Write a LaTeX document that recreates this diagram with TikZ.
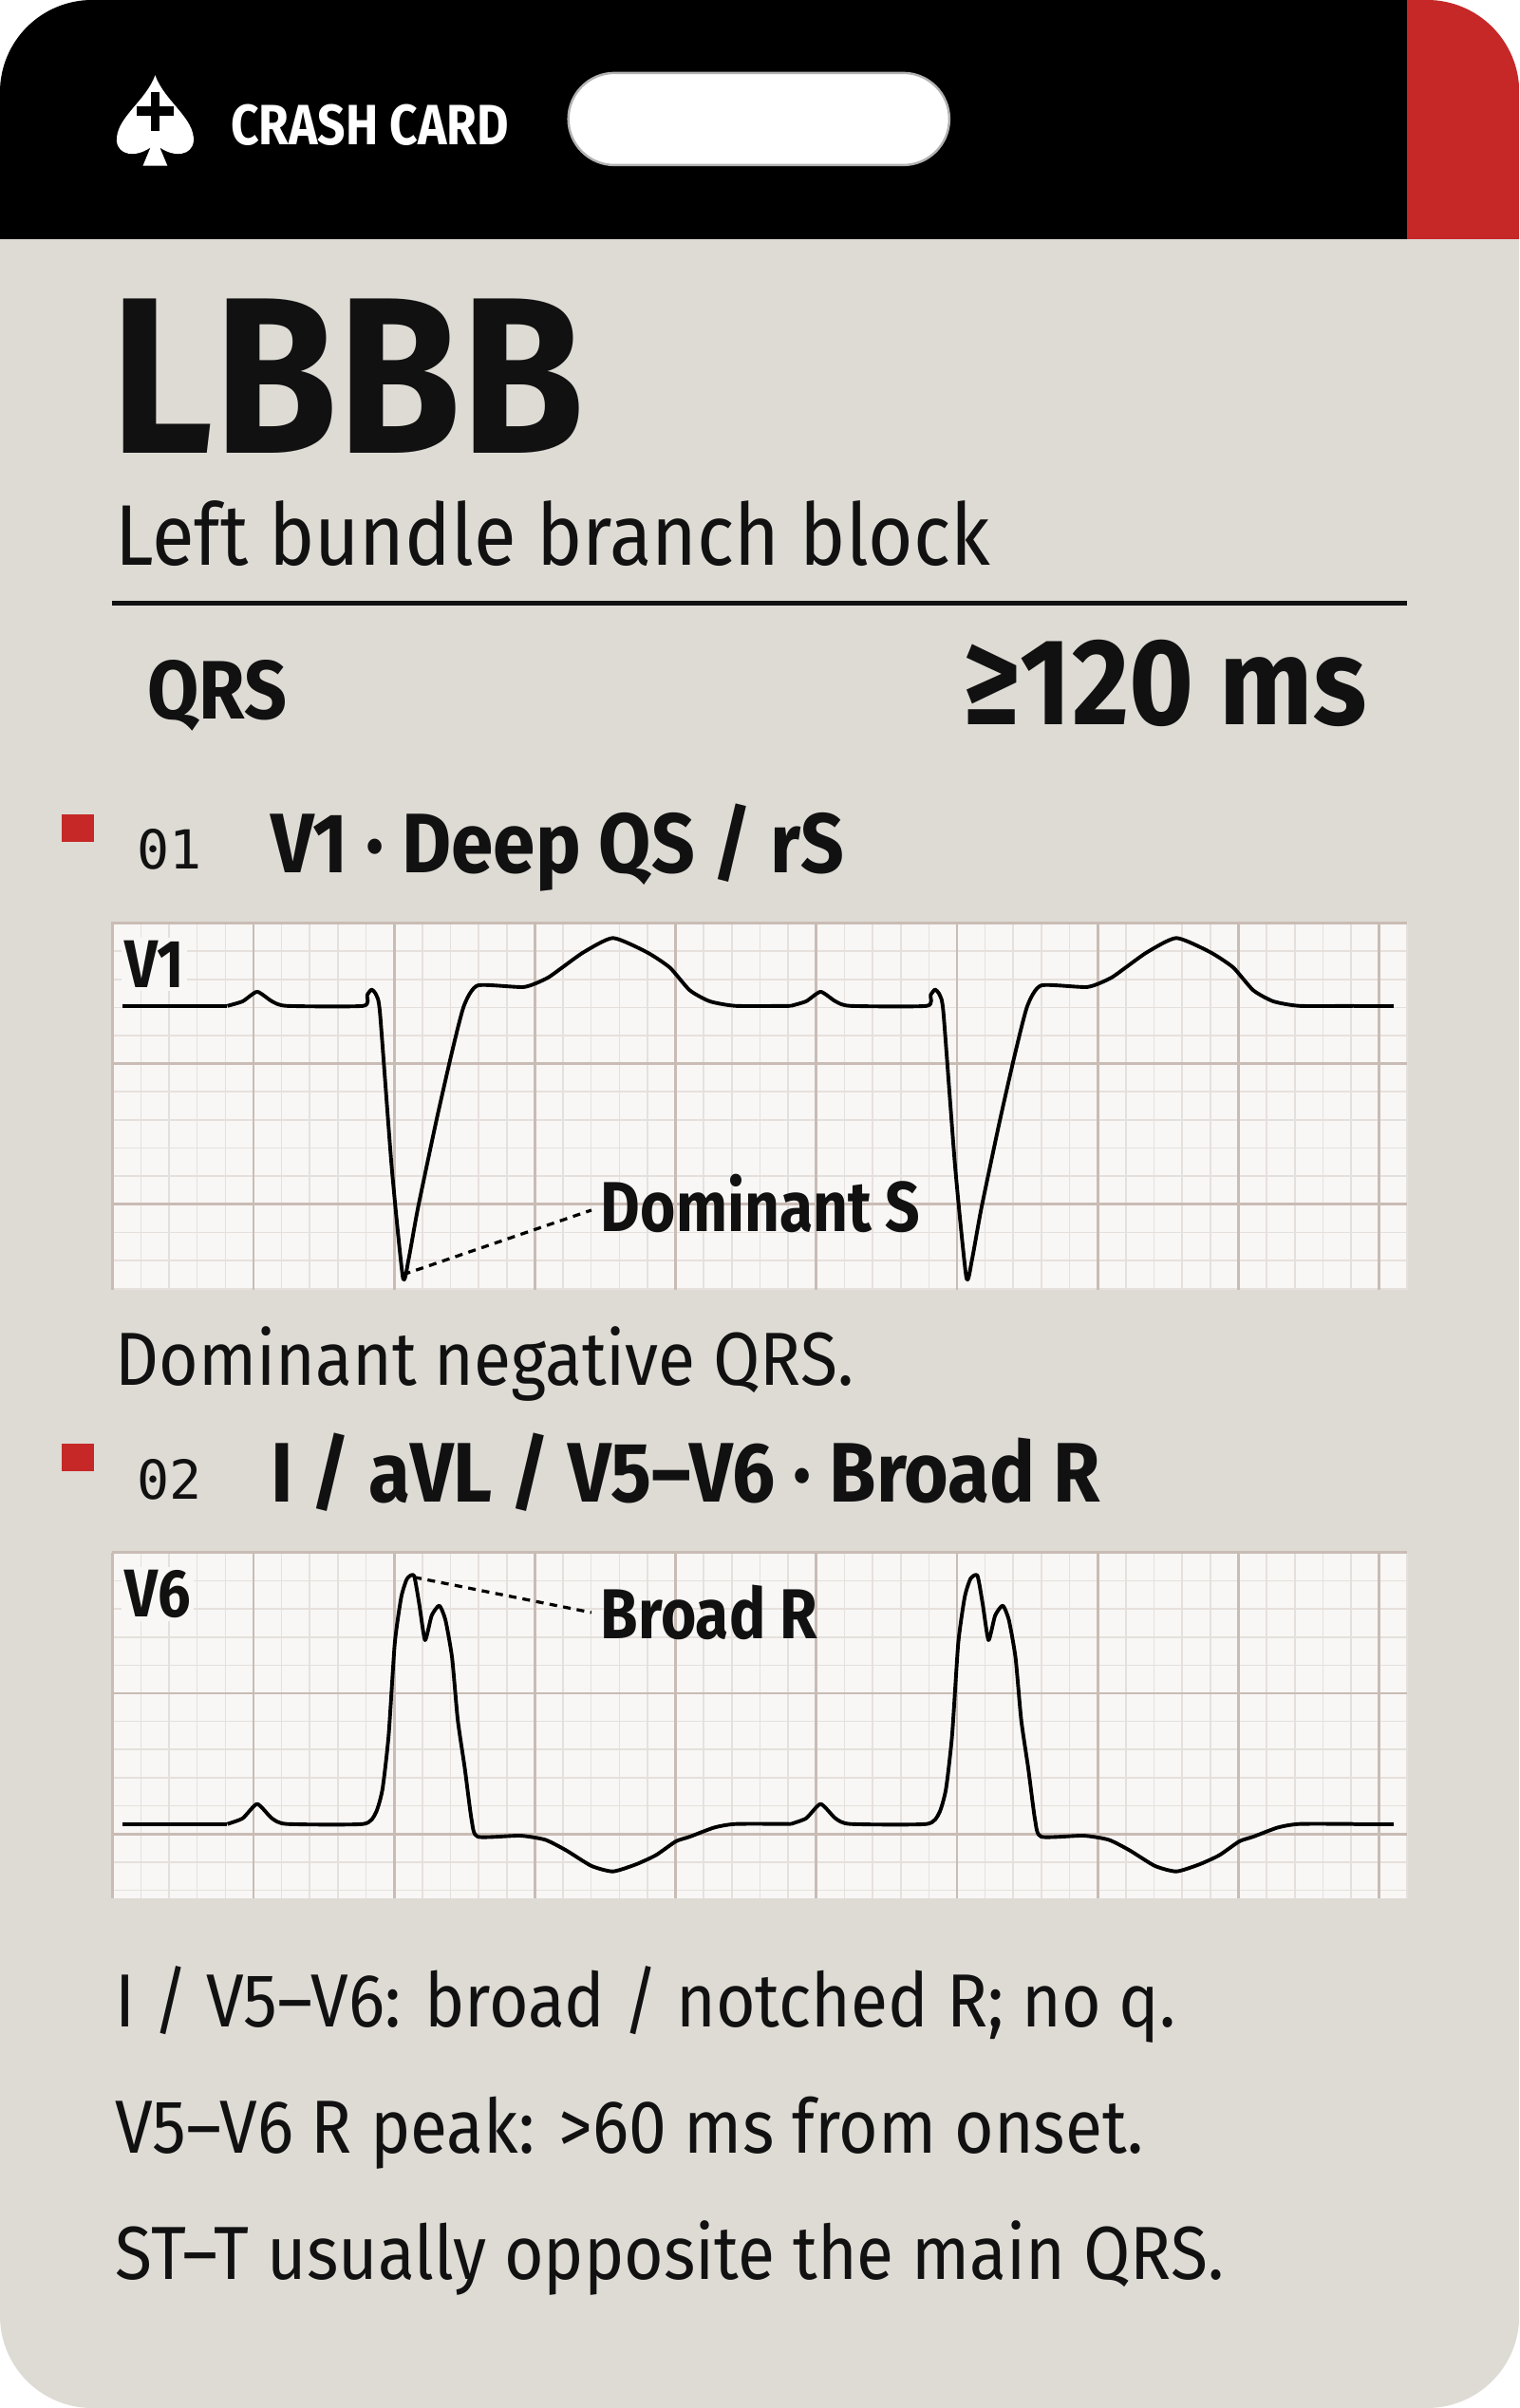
\documentclass[tikz,border=0pt]{standalone}
\usepackage{fontspec}
\setmainfont{Fira Sans}[FakeStretch=0.9]
\newfontfamily\cond{Fira Sans}[FakeStretch=0.86]
\newfontfamily\monof{DejaVu Sans Mono}
\definecolor{cardbg}{HTML}{DEDBD5}
\definecolor{cardred}{HTML}{C62828}
\definecolor{gridbg}{HTML}{F8F7F5}
\definecolor{minorc}{HTML}{E6E0DC}
\definecolor{majorc}{HTML}{C9BCB5}
\definecolor{ink}{HTML}{111111}
\begin{document}
\begin{tikzpicture}[x=1pt,y=-1pt,
  body/.style={anchor=base west,inner sep=0pt,text=ink,font=\fontsize{49}{55}\selectfont},
  head/.style={anchor=base west,inner sep=0pt,text=ink,font=\fontsize{55}{60}\selectfont\bfseries},
  num/.style={anchor=base west,inner sep=0pt,text=ink,font=\fontsize{35}{40}\monof},
  bullet/.style={fill=cardred},
  lab/.style={anchor=base west,inner sep=0pt,text=ink,font=\fontsize{46}{50}\cond\bfseries},
  trace/.style={line width=2.4pt,black,line join=round},
  leader/.style={line width=2pt,dash pattern=on 5pt off 4pt}]
\path[use as bounding box] (0,0) rectangle (989,1568);
\begin{scope}
\clip[rounded corners=60pt] (0,0) rectangle (989,1568);
\fill[cardbg] (0,0) rectangle (989,1568);
\fill[black] (0,0) rectangle (916,155.5);
\fill[cardred] (916,0) rectangle (989,155.5);
\end{scope}
% spade icon
\fill[white] (101,49) .. controls (95,66) and (75,77) .. (76,92) .. controls (77,101) and (88,103) .. (98,96) -- (93,108) -- (109,108) -- (104,96) .. controls (114,103) and (125,101) .. (126,92) .. controls (127,77) and (107,66) .. (101,49) -- cycle;
\fill[black] (98,60) rectangle (104,85);
\fill[black] (89,69.5) rectangle (113,75.5);
\node[anchor=base west,inner sep=0pt,text=white,font=\fontsize{37}{40}\cond\bfseries] (crash) at (150,94) {CRASH CARD};
\node[draw=gray!60,line width=1.5pt,fill=white,rounded corners=30pt,minimum width=248pt,minimum height=60pt,inner sep=0pt] (pill) at (494,77.5) {};
% title
\node[anchor=base west,inner sep=0pt,text=ink,font=\fontsize{145}{150}\selectfont\bfseries] (title) at (72,295) {LBBB};
\node[body,font=\fontsize{56}{60}\selectfont] (sub) at (75,368) {Left bundle branch block};
\draw[line width=3pt,ink] (73,393) -- (916,393);
\node[anchor=base west,inner sep=0pt,text=ink,font=\fontsize{54}{60}\selectfont\bfseries] (qrs) at (96,468) {QRS};
\node[anchor=base east,inner sep=0pt,text=ink,font=\fontsize{80}{85}\selectfont\bfseries] (val) at (890,472) {≥120 ms};
% section 1
\fill[bullet] (40,530) rectangle (61,548);
\node[num] (n1) at (89,566) {01};
\node[head] (h1) at (176,568) {V1 · Deep QS / rS};
% grid 1
\fill[gridbg] (73,600) rectangle (916,840);
\foreach \i in {0,...,46} \draw[minorc,line width=1pt] ({73.4+\i*18.32},600) -- ({73.4+\i*18.32},840);
\foreach \j in {0,...,13} \draw[minorc,line width=1pt] (73,{601+\j*18.32}) -- (916,{601+\j*18.32});
\foreach \i in {0,5,...,45} \draw[majorc,line width=1.8pt] ({73.4+\i*18.32},600) -- ({73.4+\i*18.32},840);
\foreach \j in {0,5,10} \draw[majorc,line width=1.8pt] (73,{601+\j*18.32}) -- (916,{601+\j*18.32});
\node[anchor=base west,fill=gridbg,inner sep=2pt,text=ink,font=\fontsize{44}{48}\cond\bfseries] (v1) at (79,643) {V1};
\foreach \s in {0,366.8}{
\draw[trace,xshift=\s pt] plot[smooth,tension=0.35] coordinates {(148,655)(158,652)(167.4,645.8)(177,652)(186.7,655)(236.4,655)(239,648)(241.9,644.4)(245,648)(247.4,660)(255,760)(262.3,832)(266,820)(272,787)(284,730)(294,686)(302,655)(311,641.7)(341,642.7)(356,637)(366,630)(380,620)(399,610.8)(421,620)(436,630)(449,644.8)(462,652)(479,655)(514.8,655)};
}
\draw[trace] (80,655) -- (148,655);
\draw[trace] (881.6,655) -- (907,655);
\coordinate (strough) at (262.3,830);
\node[lab] (domS) at (391,802) {Dominant S};
\draw[leader] (strough) -- (385,788);
\node[body] (t1) at (75,902) {Dominant negative QRS.};
% section 2
\fill[bullet] (40,940) rectangle (61,958);
\node[num] (n2) at (89,976) {02};
\node[head] (h2) at (176,978) {I / aVL / V5–V6 · Broad R};
% grid 2
\fill[gridbg] (73,1011) rectangle (916,1236);
\foreach \i in {0,...,46} \draw[minorc,line width=1pt] ({73.4+\i*18.32},1011) -- ({73.4+\i*18.32},1236);
\foreach \j in {0,...,12} \draw[minorc,line width=1pt] (73,{1011+\j*18.32}) -- (916,{1011+\j*18.32});
\foreach \i in {0,5,...,45} \draw[majorc,line width=1.8pt] ({73.4+\i*18.32},1011) -- ({73.4+\i*18.32},1236);
\foreach \j in {0,5,10} \draw[majorc,line width=1.8pt] (73,{1011+\j*18.32}) -- (916,{1011+\j*18.32});
\node[anchor=base west,fill=gridbg,inner sep=2pt,text=ink,font=\fontsize{44}{48}\cond\bfseries] (v6) at (79,1053) {V6};
\foreach \s in {0,366.8}{
\draw[trace,xshift=\s pt] plot[smooth,tension=0.35] coordinates {(148,1187.7)(158,1184)(167.4,1174.7)(177,1184)(186.7,1187.7)(236.4,1187.7)(244.6,1180.5)(249,1165)(253,1130)(257,1070)(261.2,1040)(265,1028)(269.5,1026)(273,1045)(276.7,1068)(281,1052)(286,1045.5)(290,1055)(294.3,1079.5)(298,1120)(302.6,1151.6)(307,1185)(311,1196)(338.5,1195.3)(355,1198)(368.8,1205)(385,1215)(399,1218.6)(414,1214)(427,1208)(440,1199)(449,1196)(465,1190)(479,1187.7)(514.8,1187.7)};
}
\draw[trace] (80,1187.7) -- (148,1187.7);
\draw[trace] (881.6,1187.7) -- (907,1187.7);
\coordinate (rpeak) at (269.5,1027);
\node[lab] (brR) at (391,1067) {Broad R};
\draw[leader] (rpeak) -- (385,1050);
\node[body] (t2) at (75,1320) {I / V5–V6: broad / notched R; no q.};
\node[body] (t3) at (75,1402) {V5–V6 R peak: >60 ms from onset.};
\node[body] (t4) at (75,1484) {ST–T usually opposite the main QRS.};
\end{tikzpicture}
\end{document}
